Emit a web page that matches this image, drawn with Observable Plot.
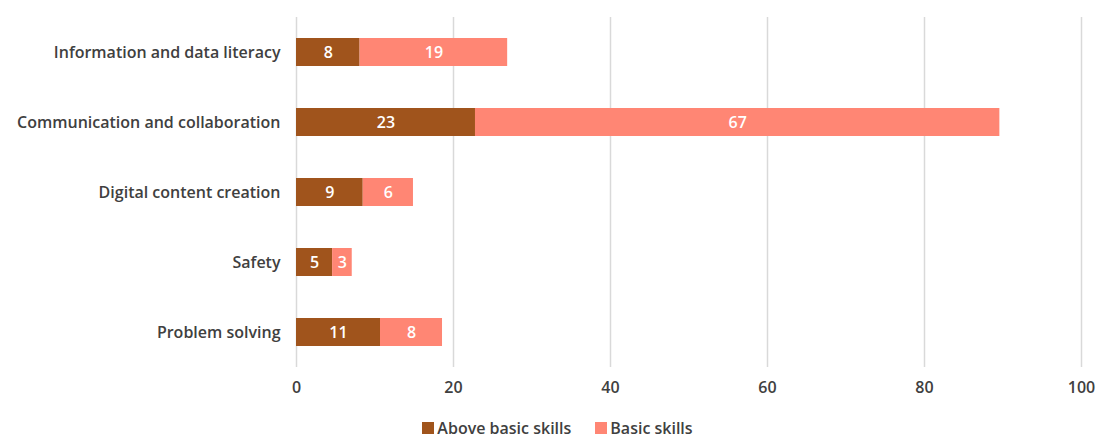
<!DOCTYPE html>
<html>
<head>
<meta charset="utf-8">
<script src="https://cdn.jsdelivr.net/npm/d3@7"></script>
<script src="https://cdn.jsdelivr.net/npm/@observablehq/plot@0.6"></script>
<style>
  html, body { margin: 0; padding: 0; background: #fff; }
  body { width: 1099px; height: 437px; overflow: hidden; font-family: "Open Sans", sans-serif; }
  #legend { display: flex; justify-content: center; align-items: center; gap: 24px; font-family: "Open Sans", sans-serif; font-weight: 600; font-size: 16px; color: #404040; margin-top: 13px; padding-left: 16px; line-height: 20px; }
  .sw { display: inline-flex; align-items: center; gap: 3px; }
  .sw i { display: inline-block; width: 12px; height: 12px; }
</style>
</head>
<body>
<div id="chart"></div>
<div id="legend"></div>
<script>
const categories = ["Information and data literacy", "Communication and collaboration", "Digital content creation", "Safety", "Problem solving"];
const aboveBasic = [8.1, 22.8, 8.5, 4.6, 10.7];
const basic = [18.8, 66.8, 6.4, 2.5, 7.9];
const seriesNames = ["Above basic skills", "Basic skills"];
const seriesColors = ["#A0541C", "#FF8674"];
const xTicks = [0, 20, 40, 60, 80, 100];

const data = [];
categories.forEach((c, i) => {
  data.push({category: c, series: seriesNames[0], value: aboveBasic[i]});
  data.push({category: c, series: seriesNames[1], value: basic[i]});
});

const textColor = "#404040";
const font = "'Open Sans', sans-serif";
const chart = Plot.plot({
  width: 1099,
  height: 405,
  marginLeft: 296,
  marginRight: 18,
  marginTop: 17,
  marginBottom: 38,
  style: {fontFamily: font, fontSize: "16px", fontWeight: 600, color: textColor, background: "#fff"},
  x: {domain: [0, 100], ticks: xTicks, label: null},
  y: {domain: categories, label: null, paddingInner: 0.6, paddingOuter: 0.3},
  color: {domain: seriesNames, range: seriesColors},
  marks: [
    Plot.gridX(xTicks, {stroke: "#d9d9d9", strokeOpacity: 1, strokeWidth: 1.5}),
    Plot.barX(data, Plot.stackX({x: "value", y: "category", fill: "series", order: seriesNames})),
    Plot.text(data, Plot.stackX({x: "value", y: "category", z: "series", order: seriesNames, text: d => String(Math.round(d.value)), fill: "white", fontSize: 16, fontWeight: 600})),
    Plot.axisX(xTicks, {tickSize: 0, tickPadding: 14, fill: textColor, fontSize: 16, fontWeight: 600}),
    Plot.axisY({tickSize: 0, tickPadding: 16, fill: textColor, fontSize: 16, fontWeight: 600})
  ]
});
document.getElementById("chart").appendChild(chart);

const legend = document.getElementById("legend");
seriesNames.forEach((s, i) => {
  const span = document.createElement("span");
  span.className = "sw";
  const sw = document.createElement("i");
  sw.style.background = seriesColors[i];
  span.appendChild(sw);
  span.appendChild(document.createTextNode(s));
  legend.appendChild(span);
});
</script>
</body>
</html>
